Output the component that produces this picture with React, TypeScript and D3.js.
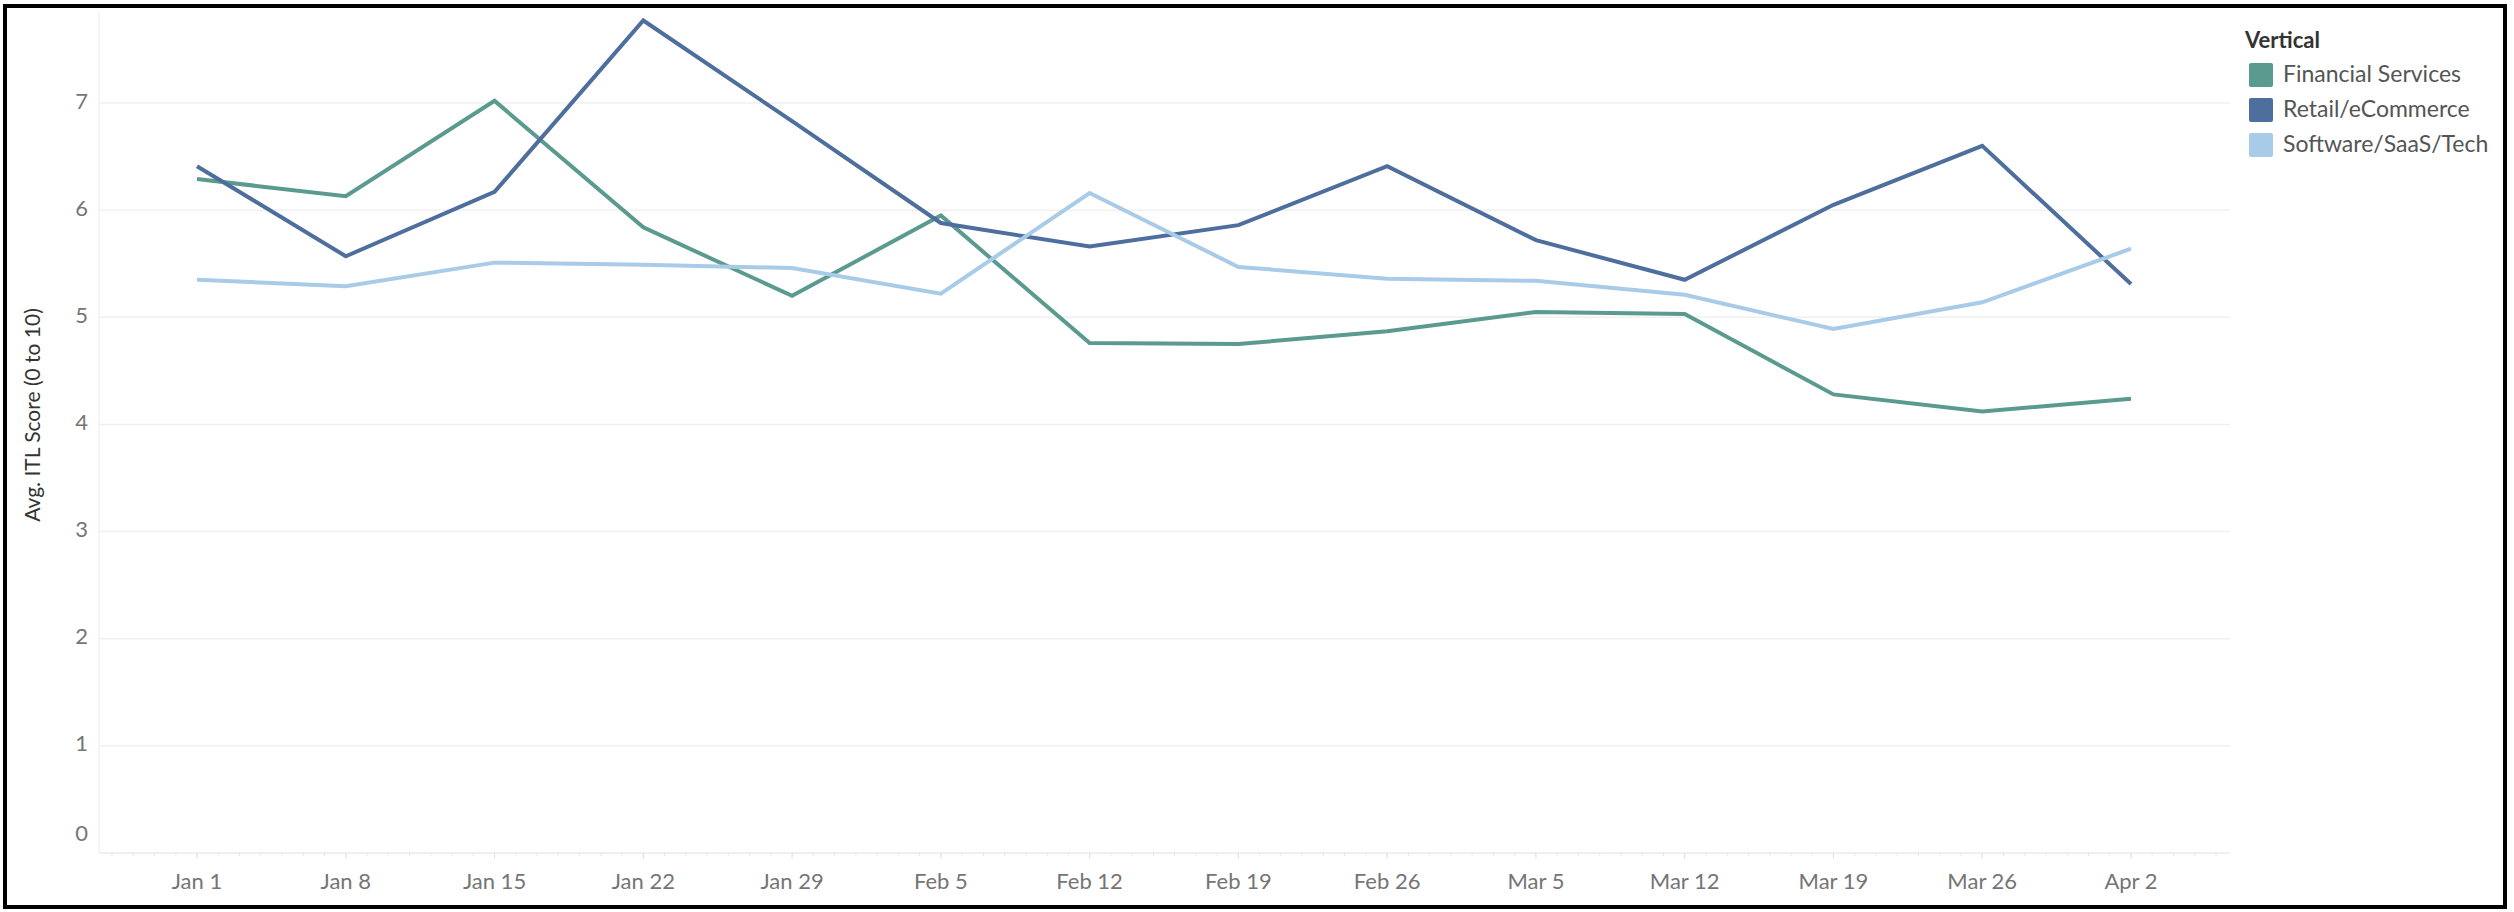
import React from "react";
import * as d3 from "d3";

const weeks = ["Jan 1","Jan 8","Jan 15","Jan 22","Jan 29","Feb 5","Feb 12","Feb 19","Feb 26","Mar 5","Mar 12","Mar 19","Mar 26","Apr 2"];
const financial = [6.29,6.13,7.02,5.84,5.20,5.95,4.76,4.75,4.87,5.05,5.03,4.28,4.12,4.24];
const retail = [6.41,5.57,6.17,7.77,6.83,5.88,5.66,5.86,6.41,5.72,5.35,6.05,6.60,5.31];
const software = [5.35,5.29,5.51,5.49,5.46,5.22,6.16,5.47,5.36,5.34,5.21,4.89,5.14,5.64];
const seriesNames = ["Financial Services","Retail/eCommerce","Software/SaaS/Tech"];
const seriesColors = ["#5a9a8f","#4e6e9e","#a8cbe8"];
const yTicks = [0,1,2,3,4,5,6,7];

const W = 2514, H = 912;
const plotLeft = 99, plotRight = 2230, plotBottom = 853;
const FONT = "Lato, 'Noto Sans', sans-serif";

export default function App() {
  const y = d3.scaleLinear().domain([0, 7]).range([plotBottom, 103]);
  const x = d3.scalePoint<string>().domain(weeks).range([197, 2131]);
  const line = d3.line<number>().x((_, i) => x(weeks[i])!).y(d => y(d));
  const allSeries = [financial, retail, software];
  const step = (x(weeks[1])! - x(weeks[0])!) / 7;
  const minor: number[] = [];
  for (let t = x(weeks[0])! - 4 * step; t <= plotRight; t += step) if (t >= plotLeft) minor.push(t);

  return (
    <svg width={W} height={H} style={{ position: "absolute", left: 0, top: 0, display: "block", background: "#fff" }} fontFamily={FONT}>
      <rect x={0} y={0} width={W} height={H} fill="#fff" />
      {yTicks.filter(t => t > 0).map(t => (
        <line key={t} x1={plotLeft} x2={plotRight} y1={y(t)} y2={y(t)} stroke="#f0f0f0" strokeWidth={1.5} />
      ))}
      <line x1={plotLeft} x2={plotLeft} y1={12} y2={plotBottom} stroke="#f2f2f2" strokeWidth={1.5} />
      <line x1={plotLeft} x2={plotRight} y1={plotBottom} y2={plotBottom} stroke="#ebebeb" strokeWidth={1.5} />
      {minor.map((t, i) => (
        <line key={i} x1={t} x2={t} y1={plotBottom} y2={plotBottom + 3} stroke="#e6e6e6" strokeWidth={1} />
      ))}
      {weeks.map(w => (
        <line key={w} x1={x(w)} x2={x(w)} y1={plotBottom} y2={plotBottom + 6} stroke="#e0e0e0" strokeWidth={1} />
      ))}
      {yTicks.map(t => (
        <text key={t} x={88} y={t === 0 ? 835 : y(t)} dominantBaseline="middle" textAnchor="end" fontSize={22} fill="#757575">{t}</text>
      ))}
      {weeks.map(w => (
        <text key={w} x={x(w)} y={889} textAnchor="middle" fontSize={22} fill="#757575">{w}</text>
      ))}
      <text transform={`translate(40,415) rotate(-90)`} textAnchor="middle" fontSize={21} fill="#333">Avg. ITL Score (0 to 10)</text>
      {allSeries.map((s, i) => (
        <path key={i} d={line(s)!} fill="none" stroke={seriesColors[i]} strokeWidth={4} strokeLinejoin="miter" />
      ))}
      <text x={2245} y={48} fontSize={22} fontWeight={700} fill="#333">Vertical</text>
      {seriesNames.map((n, i) => (
        <g key={n}>
          <rect x={2249} y={63 + i * 35} width={24} height={24} rx={2} fill={seriesColors[i]} />
          <text x={2283} y={82 + i * 35} fontSize={23} fill="#555">{n}</text>
        </g>
      ))}
      <rect x={5} y={6} width={2500} height={901} fill="none" stroke="#000" strokeWidth={4} />
    </svg>
  );
}
